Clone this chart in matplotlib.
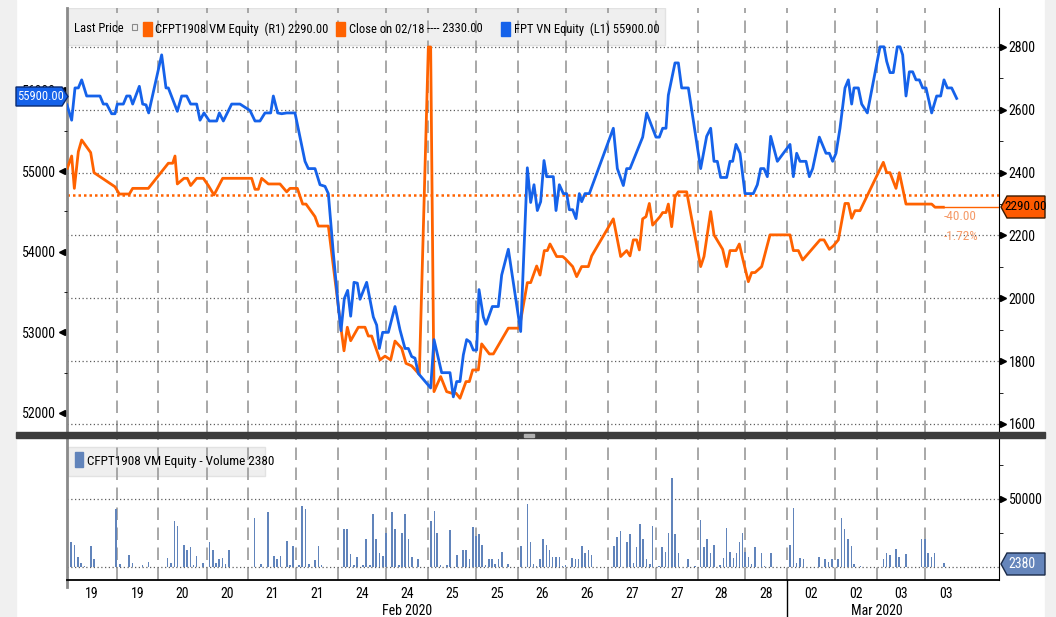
import numpy as np
import matplotlib.pyplot as plt
import matplotlib.transforms as mtransforms
from matplotlib import font_manager
from matplotlib.patches import Rectangle, Polygon

# Bloomberg uses a narrow face; take the narrowest one that is installed
_fonts = font_manager.fontManager.ttflist
FONT, STRETCH, FS = 'Liberation Sans', 'normal', 8.5
for want in ['Liberation Sans Narrow', 'Roboto Condensed', 'Open Sans Condensed',
             'Noto Sans Condensed']:
    if any(f.name == want for f in _fonts):
        FONT, FS = want, 10
        break
else:
    cond = [f for f in _fonts if f.name in ('DejaVu Sans', 'Noto Sans', 'Roboto', 'Open Sans')
            and f.stretch in ('condensed', 'semi-condensed', 'extra-condensed')
            and f.weight in (400, 'normal', 'regular') and f.style == 'normal']
    if cond:
        FONT, STRETCH, FS = cond[0].name, cond[0].stretch, 9
plt.rcParams['font.family'] = [FONT, 'DejaVu Sans']
plt.rcParams['font.stretch'] = STRETCH

# ---- x axis: intraday bar index, session boundaries and labels ----
sessions = [15.0, 27.3, 42.0, 54.3, 68.7, 81.3, 95.7, 108.3, 122.7, 135.3,
            149.7, 162.3, 176.7, 189.3, 203.4, 216.0, 230.4, 243.0, 257.4]
session_end = 270.0
day_labels = ['19', '19', '20', '20', '21', '21', '24', '24', '25', '25',
              '26', '26', '27', '27', '28', '28', '02', '02', '03', '03']
month_labels = ['Feb 2020', 'Mar 2020']
month_pos = [102, 243]
month_break = 216.0

# ---- FPT VN Equity (left axis) ----
blue_t = [0, 1.4, 2.4, 3.4, 4.4, 5.9, 9.9, 10.9, 11.9, 13.4, 14.4, 15.1, 16.9, 17.9, 18.9, 19.7,
          21.7, 22.7, 23.7, 24.5, 28.4, 29.7, 30.4, 33.1, 34.4, 35.9, 37.1, 38.9, 39.9, 41.1,
          42.7, 44.9, 45.7, 46.9, 49.4, 51.9, 54.9, 56.4, 57.9, 59.4, 61.1, 61.9, 63.2, 64.4,
          65.9, 68.4, 71.4, 72.4, 74.4, 75.9, 77.4, 78.4, 79.9, 81.4, 82.2, 83.2, 84.2, 85.1,
          86.1, 87.1, 87.9, 89.9, 91.9, 92.9, 93.7, 94.7, 96.4, 98.4, 99.9, 101.4, 102.4, 103.4,
          104.4, 105.4, 109.1, 110.1, 112.4, 114.9, 115.9, 116.9, 117.9, 118.9, 119.9, 120.9,
          121.9, 122.9, 123.6, 124.9, 125.7, 127.6, 129.4, 130.4, 132.4, 136.1, 138.1, 139.1,
          140.1, 141.1, 142.1, 143.1, 143.9, 145.9, 146.7, 147.7, 148.9, 149.9, 150.7, 151.7,
          152.7, 153.7, 154.4, 155.4, 156.7, 163.9, 165.1, 166.9, 167.9, 168.9, 172.7, 173.9,
          176.7, 177.7, 178.7, 179.7, 180.4, 182.4, 183.4, 184.4, 186.4, 190.1, 191.9, 193.1,
          194.1, 195.1, 196.1, 197.9, 198.9, 199.7, 200.7, 201.9, 203.4, 205.9, 207.1, 208.1,
          209.1, 210.1, 211.1, 213.1, 216.9, 217.9, 218.9, 219.9, 221.7, 222.7, 223.7, 225.7,
          227.7, 228.7, 229.7, 230.7, 231.9, 233.4, 234.4, 235.4, 236.1, 237.4, 238.4, 240.1,
          243.9, 245.1, 245.9, 246.9, 247.9, 249.1, 249.9, 250.7, 251.7, 252.7, 253.7, 254.7,
          255.7, 256.7, 257.7, 259.4, 260.9, 262.1, 263.1, 264.1, 265.4, 266.9]
blue_v = [55820, 55630, 56030, 56030, 56130, 55930, 55930, 55830, 55830, 55710, 55710, 55830,
          55830, 55930, 55930, 55830, 56050, 55830, 55820, 55720, 56440, 56030, 56030, 55740,
          55930, 55930, 55830, 55830, 55630, 55720, 55620, 55620, 55720, 55620, 55830, 55830,
          55750, 55620, 55620, 55720, 55720, 55930, 55720, 55710, 55720, 55720, 55120, 55030,
          55030, 54830, 54810, 54720, 53980, 53320, 53020, 53420, 53520, 53200, 53620, 53610,
          53410, 53620, 53190, 53090, 52800, 53000, 53000, 53320, 53030, 52800, 52800, 52700,
          52680, 52490, 52310, 52910, 52500, 52500, 52200, 52390, 52390, 52720, 52910, 52880,
          52780, 52780, 53530, 53190, 53100, 53320, 53320, 53710, 54030, 53010, 55040, 54610,
          54830, 54510, 54620, 55130, 54930, 54930, 54510, 54830, 54720, 54720, 54520, 54520,
          54410, 54720, 54620, 54720, 54720, 55530, 55030, 54820, 55030, 55030, 55420, 55720,
          55420, 55420, 55530, 55530, 55940, 56340, 56340, 56030, 56030, 55030, 55430, 55530,
          55120, 55120, 54920, 54920, 55120, 55120, 55330, 55220, 54720, 54720, 54830, 55030,
          55030, 54930, 55430, 55120, 55330, 54930, 55220, 55120, 55120, 54930, 55030, 55420,
          55220, 55220, 55120, 55220, 55530, 56030, 56130, 55830, 56030, 56030, 55830, 55720,
          56540, 56540, 56360, 56220, 56220, 56540, 56540, 56440, 55930, 56230, 56230, 56130,
          56130, 56030, 56030, 55720, 55930, 55930, 56130, 56030, 56030, 55900]

# ---- CFPT1908 VM Equity (right axis) ----
orange_t = [0.1, 1.4, 2.2, 3.4, 4.4, 7.1, 8.1, 14.4, 15.7, 18.7, 19.7, 24.4, 30.4, 31.7, 32.4,
            33.1, 35.1, 36.1, 37.1, 38.9, 40.9, 42.4, 44.1, 46.7, 55.4, 56.4, 57.4, 58.4, 60.4,
            63.9, 65.9, 66.9, 69.1, 70.7, 71.7, 74.4, 75.4, 78.4, 82.4, 83.1, 84.1, 85.1, 87.4,
            89.4, 90.4, 91.4, 93.9, 95.4, 97.1, 98.4, 100.4, 101.7, 103.4, 105.7, 108.4, 109.1,
            110.1, 112.1, 113.9, 115.4, 116.7, 117.9, 119.7, 120.7, 121.7, 123.4, 124.4, 126.7,
            127.9, 132.4, 135.7, 138.1, 139.1, 140.9, 141.9, 143.2, 144.1, 144.9, 146.9, 148.7,
            149.4, 151.7, 152.9, 154.4, 156.4, 157.4, 163.9, 166.1, 167.9, 168.9, 169.9, 170.9,
            171.7, 172.7, 173.7, 174.7, 175.7, 177.9, 178.7, 179.7, 180.4, 181.4, 182.4, 183.4,
            185.9, 190.1, 191.1, 193.1, 194.1, 196.7, 197.9, 198.9, 200.7, 201.7, 202.7, 204.4,
            205.4, 206.4, 208.4, 210.9, 216.9, 217.9, 219.4, 220.7, 225.9, 227.1, 228.7, 229.9,
            231.4, 233.4, 234.4, 235.4, 236.4, 237.9, 240.4, 244.9, 245.9, 246.9, 248.7, 249.7,
            251.7, 259.4, 260.4, 262.9]
orange_v = [2414, 2453, 2350, 2467, 2504, 2464, 2400, 2355, 2332, 2332, 2350, 2350, 2430, 2430,
            2453, 2364, 2382, 2382, 2359, 2382, 2382, 2359, 2329, 2382, 2382, 2347, 2347, 2382,
            2364, 2364, 2339, 2350, 2350, 2300, 2300, 2260, 2230, 2230, 1889, 1833, 1908, 1865,
            1908, 1908, 1880, 1880, 1804, 1816, 1804, 1864, 1841, 1793, 1785, 1758, 2800, 2800,
            1703, 1751, 1703, 1698, 1698, 1682, 1735, 1735, 1772, 1772, 1855, 1823, 1823, 1905,
            1905, 2050, 2050, 2103, 2074, 2152, 2152, 2173, 2133, 2133, 2127, 2101, 2069, 2101,
            2101, 2135, 2253, 2133, 2152, 2135, 2186, 2186, 2154, 2253, 2260, 2302, 2233, 2260,
            2273, 2273, 2300, 2228, 2323, 2339, 2339, 2101, 2133, 2276, 2202, 2156, 2101, 2152,
            2152, 2173, 2127, 2053, 2082, 2082, 2101, 2202, 2202, 2152, 2152, 2122, 2186, 2186,
            2156, 2167, 2186, 2302, 2302, 2255, 2279, 2279, 2334, 2433, 2400, 2400, 2350, 2400,
            2300, 2300, 2290, 2290]
close_prev = 2330

# ---- CFPT1908 volume ----
vol_t = [1.2, 2.2, 3.2, 4.2, 5.2, 7.1, 8.1, 14.7, 15.9, 18.6, 19.7, 22.6, 24.5, 30.2, 31.2, 32.2,
         33.2, 35.1, 36.0, 37.0, 38.0, 38.9, 40.9, 42.7, 43.7, 44.7, 45.6, 46.6, 47.6, 48.6,
         56.2, 58.2, 60.2, 62.0, 63.0, 64.0, 65.9, 66.9, 67.7, 69.6, 70.5, 71.5, 72.5, 74.4,
         75.4, 76.3, 83.0, 84.0, 85.0, 86.0, 87.0, 88.8, 89.8, 90.8, 91.7, 92.7, 93.7, 94.7,
         95.7, 97.5, 98.5, 99.5, 100.5, 101.4, 102.4, 103.4, 105.3, 109.2, 110.2, 111.1, 112.1,
         113.9, 114.9, 116.9, 118.8, 119.8, 120.7, 121.7, 122.7, 123.6, 124.6, 125.6, 126.5,
         127.5, 128.5, 129.4, 130.4, 132.3, 136.2, 138.1, 139.0, 140.0, 140.9, 141.9, 142.8,
         143.8, 144.8, 145.7, 146.7, 147.7, 148.7, 149.6, 151.5, 152.5, 153.5, 154.5, 155.4,
         156.4, 157.4, 164.1, 165.1, 166.0, 168.0, 168.9, 169.9, 170.9, 171.8, 172.8, 173.8,
         174.8, 175.7, 177.6, 178.5, 179.5, 180.5, 181.5, 182.4, 183.4, 186.3, 188.3, 190.1,
         191.1, 192.1, 193.1, 194.1, 196.0, 196.9, 197.9, 198.9, 199.9, 200.8, 201.8, 202.7,
         203.5, 204.5, 205.4, 206.4, 208.3, 209.3, 211.2, 216.9, 217.9, 218.9, 219.9, 220.9,
         225.6, 227.5, 228.5, 229.5, 231.3, 232.3, 233.3, 234.3, 235.3, 236.2, 238.1, 244.9,
         245.9, 246.9, 248.7, 249.7, 251.7, 256.4, 257.4, 258.4, 259.3, 260.3, 263.2]
vol_v = [18000, 16300, 7300, 2900, 500, 15300, 5600, 42100, 2000, 8300, 2900, 1000, 3600, 6600,
         2900, 33400, 29700, 15600, 12200, 14600, 1000, 7600, 2900, 18000, 12000, 2900, 5800,
         6600, 2200, 12000, 35800, 2000, 40400, 7600, 5600, 7600, 19000, 1200, 15300, 1200,
         44800, 42100, 2000, 4600, 15300, 1000, 27700, 27700, 9300, 1200, 7300, 1000, 20000,
         1000, 38500, 20700, 10000, 7600, 25100, 40400, 27700, 1000, 25100, 38500, 20000, 7300,
         5600, 33400, 41200, 25100, 1000, 1000, 26800, 8300, 12000, 12000, 5600, 29500, 22400,
         23900, 16300, 1000, 5600, 5600, 2000, 5600, 10700, 2000, 15300, 46300, 18000, 2000,
         500, 5600, 20700, 16300, 12000, 7300, 7300, 7300, 500, 1000, 6600, 5600, 5600, 15300,
         10000, 12000, 8300, 15300, 21900, 26300, 18000, 23900, 2900, 14200, 31400, 20000, 5600,
         2000, 29700, 500, 14200, 10700, 25100, 65300, 24300, 10000, 5600, 500, 34100, 14600,
         20000, 10000, 16300, 1000, 6600, 28700, 10700, 6600, 10000, 18000, 25100, 10700, 7300,
         2000, 14200, 10000, 500, 10000, 16300, 42800, 2900, 6600, 5600, 7300, 5600, 3600, 5600,
         5600, 35800, 27700, 20700, 15300, 2000, 500, 5600, 10000, 8300, 12900, 7300, 9300,
         20000, 20000, 10000, 7300, 10000, 2900]
last_volume = 2380

BLUE = '#1562ea'
ORANGE = '#ff6200'
VOLC = '#6184bb'
W, H = 1056, 617


def fx(px):
    return px / W


def fy(py):
    return 1 - py / H


def fig_poly(pts, **kw):
    fig.patches.append(Polygon([(fx(x), fy(y)) for x, y in pts], closed=True,
                               transform=fig.transFigure, **kw))


fig = plt.figure(figsize=(10.56, 6.17), dpi=100)
fig.patches.append(Rectangle((0, 0), fx(16), 1, transform=fig.transFigure,
                             color='#f0f0f0', zorder=-1))
fig.patches.append(Rectangle((fx(1045), 0), 1 - fx(1045), 1, transform=fig.transFigure,
                             color='#f0f0f0', zorder=-1))

edges = [0] + sessions + [session_end]
centers = [(a + b) / 2 for a, b in zip(edges[:-1], edges[1:])]
xmax = 279.6
dash = (0, (7.5, 4.5))

# ---------------- main price panel ----------------
ax = fig.add_axes([fx(67), fy(433), fx(999) - fx(67), fy(8) - fy(433)])
axL = ax.twinx()          # blue, left scale (drawn on top)
ax.yaxis.tick_right()
axL.yaxis.tick_left()

ax.set_xlim(0, xmax)
ax.set_ylim(1571.35, 2924.1)
rticks = [1600, 1800, 2000, 2200, 2400, 2600, 2800]
ax.set_yticks(rticks, [str(v) for v in rticks])
ax.set_yticks([1700, 1900, 2100, 2300, 2500, 2700], minor=True)
ax.tick_params(axis='y', which='major', length=0, pad=7, labelsize=FS)
ax.tick_params(axis='y', which='minor', length=3, direction='out', color='k')
ax.set_xticks([])
ax.grid(axis='y', which='major', linestyle=(0, (1, 2)), color='#5e5e5e', lw=0.9)
ax.vlines(sessions, 1571.35, 2924.1, colors='#9a9a9a', linestyles=dash, lw=1.2, zorder=1.5)
for s in ['top', 'bottom']:
    ax.spines[s].set_visible(False)
ax.spines['left'].set_color('#8a8a8a')
ax.spines['left'].set_linewidth(2)
ax.spines['right'].set_color('k')
ax.plot(np.full(len(rticks), 1.004), rticks, transform=ax.get_yaxis_transform(),
        marker='>', ls='none', ms=5, color='k', clip_on=False)

# legend band
ax.add_patch(Rectangle((fx(68), fy(45)), fx(665) - fx(68), fy(8) - fy(45),
                       transform=fig.transFigure, fc='#efefef', ec='#e2e2e2', zorder=1))
ax.axhline(close_prev, color=ORANGE, ls=(0, (1, 1.2)), lw=1.8, zorder=2)
ax.plot(orange_t, orange_v, color=ORANGE, lw=2.0, zorder=3)
ax.hlines(orange_v[-1], orange_t[-1], xmax, color=ORANGE, lw=1.0, zorder=3)

axL.set_xlim(0, xmax)
axL.set_ylim(51752, 57021)
lticks = [52000, 53000, 54000, 55000, 56000]
axL.set_yticks(lticks, [str(v) for v in lticks])
axL.set_yticks([52500, 53500, 54500, 55500], minor=True)
axL.tick_params(axis='y', which='major', length=0, pad=8, labelsize=FS)
axL.tick_params(axis='y', which='minor', length=2.5, direction='out', color='k')
for s in ['top', 'bottom', 'right', 'left']:
    axL.spines[s].set_visible(False)
axL.plot(np.full(len(lticks), -0.005), lticks, transform=axL.get_yaxis_transform(),
         marker='<', ls='none', ms=5, color='k', clip_on=False)
axL.plot(blue_t, blue_v, color=BLUE, lw=2.0, zorder=3)

# legend texts
LFS = FS - 1
ly = fy(29)
fig.text(fx(74), ly, 'Last Price', fontsize=LFS, va='center')
fig.patches.append(Rectangle((fx(132), fy(30)), fx(5), fy(0) - fy(6), transform=fig.transFigure,
                             fc='none', ec='#8a8a8a', lw=0.8, zorder=5))
for x0, c in [(143, ORANGE), (336, ORANGE), (501, BLUE)]:
    fig.patches.append(Rectangle((fx(x0), fy(36)), fx(9), fy(0) - fy(14),
                                 transform=fig.transFigure, color=c, zorder=5))
fig.text(fx(155), ly, 'CFPT1908 VM Equity  (R1) 2290.00', fontsize=LFS, va='center')
fig.text(fx(349), ly, 'Close on 02/18', fontsize=LFS, va='center')
fig.text(fx(427), ly, '---- 2330.00', fontsize=LFS, va='center')
fig.text(fx(514), ly, 'FPT VN Equity  (L1) 55900.00', fontsize=LFS, va='center')

# value flags
fig_poly([(16, 87), (62, 87), (68, 96.5), (62, 106), (16, 106)], fc=BLUE, ec='#0a2a70',
         lw=1, zorder=5)
fig.text(fx(40), fy(96.5), '55900.00', color='white', fontsize=LFS, ha='center', va='center',
         zorder=6)
fig_poly([(1001, 207), (1007, 196), (1045, 196), (1045, 218), (1007, 218)], fc='#ff5a00',
         ec='#3a1a00', lw=1, zorder=5)
fig.text(fx(1026), fy(207), '2290.00', color='black', fontsize=FS - 0.5, ha='center',
         va='center', zorder=6)
fig.text(fx(944), fy(217), '-40.00', color='#f59a68', fontsize=FS - 0.5, va='center')
fig.text(fx(944), fy(237), '-1.72%', color='#f59a68', fontsize=FS - 0.5, va='center')

# panel separator
fig.patches.append(Rectangle((fx(16), fy(437.5)), fx(1045) - fx(16), fy(432) - fy(437.5),
                             transform=fig.transFigure, color='#3c3c3c', zorder=5))
fig.patches.append(Rectangle((fx(524), fy(436.5)), fx(10), fy(434) - fy(436.5),
                             transform=fig.transFigure, color='#b0b0b0', zorder=6))

# ---------------- volume panel ----------------
vax = fig.add_axes([fx(67), fy(580), fx(999) - fx(67), fy(437.5) - fy(580)])
vax.set_xlim(0, xmax)
vax.set_ylim(-9722, 94810)
vax.bar(vol_t, vol_v, width=0.5, color=VOLC, zorder=3)
vax.yaxis.tick_right()
vax.set_yticks([0, 50000], ['', '50000'])
vax.set_yticks([25000, 75000], minor=True)
vax.tick_params(axis='y', which='major', length=0, pad=7, labelsize=FS)
vax.tick_params(axis='y', which='minor', length=3, direction='out', color='k')
vax.grid(axis='y', which='major', linestyle=(0, (1, 2)), color='#5e5e5e', lw=0.9)
vax.vlines(sessions, -9722, 94810, colors='#9a9a9a', linestyles=dash, lw=1.2, zorder=1.5)
vax.plot([1.004], [50000], transform=vax.get_yaxis_transform(), marker='>', ls='none',
         ms=5, color='k', clip_on=False)
vax.set_xticks(centers, day_labels)
vax.tick_params(axis='x', length=0, pad=5, labelsize=FS)
vax.spines['top'].set_visible(False)
vax.spines['left'].set_color('#8a8a8a')
vax.spines['left'].set_linewidth(2)
vax.spines['right'].set_color('k')
vax.spines['bottom'].set_color('k')
vax.spines['bottom'].set_linewidth(1.3)

trans = mtransforms.blended_transform_factory(vax.transData, vax.transAxes)
vax.plot([month_break, month_break], [0, -0.26], transform=trans, color='k', lw=1,
         clip_on=False)
vax.plot([0, 0], [0, -0.05], transform=trans, color='#8a8a8a', lw=2, clip_on=False)
for lab, pos in zip(month_labels, month_pos):
    vax.text(pos, -0.215, lab, transform=trans, ha='center', va='center', fontsize=FS)

vax.add_patch(Rectangle((fx(68), fy(476)), fx(265) - fx(68), fy(447) - fy(476),
                        transform=fig.transFigure, fc='#efefef', ec='#e2e2e2', zorder=1))
fig.patches.append(Rectangle((fx(75), fy(467)), fx(8), fy(0) - fy(15),
                             transform=fig.transFigure, color=VOLC, zorder=5))
fig.text(fx(87), fy(461), 'CFPT1908 VM Equity - Volume %d' % last_volume, fontsize=LFS + 0.5,
         va='center')

fig_poly([(1001, 564), (1007, 553), (1045, 553), (1045, 575), (1007, 575)], fc='#6585bb',
         ec='#1a2a48', lw=1, zorder=5)
fig.text(fx(1008), fy(564), str(last_volume), color='white', fontsize=FS, va='center', zorder=6)

fig.savefig('out.png', dpi=100)
